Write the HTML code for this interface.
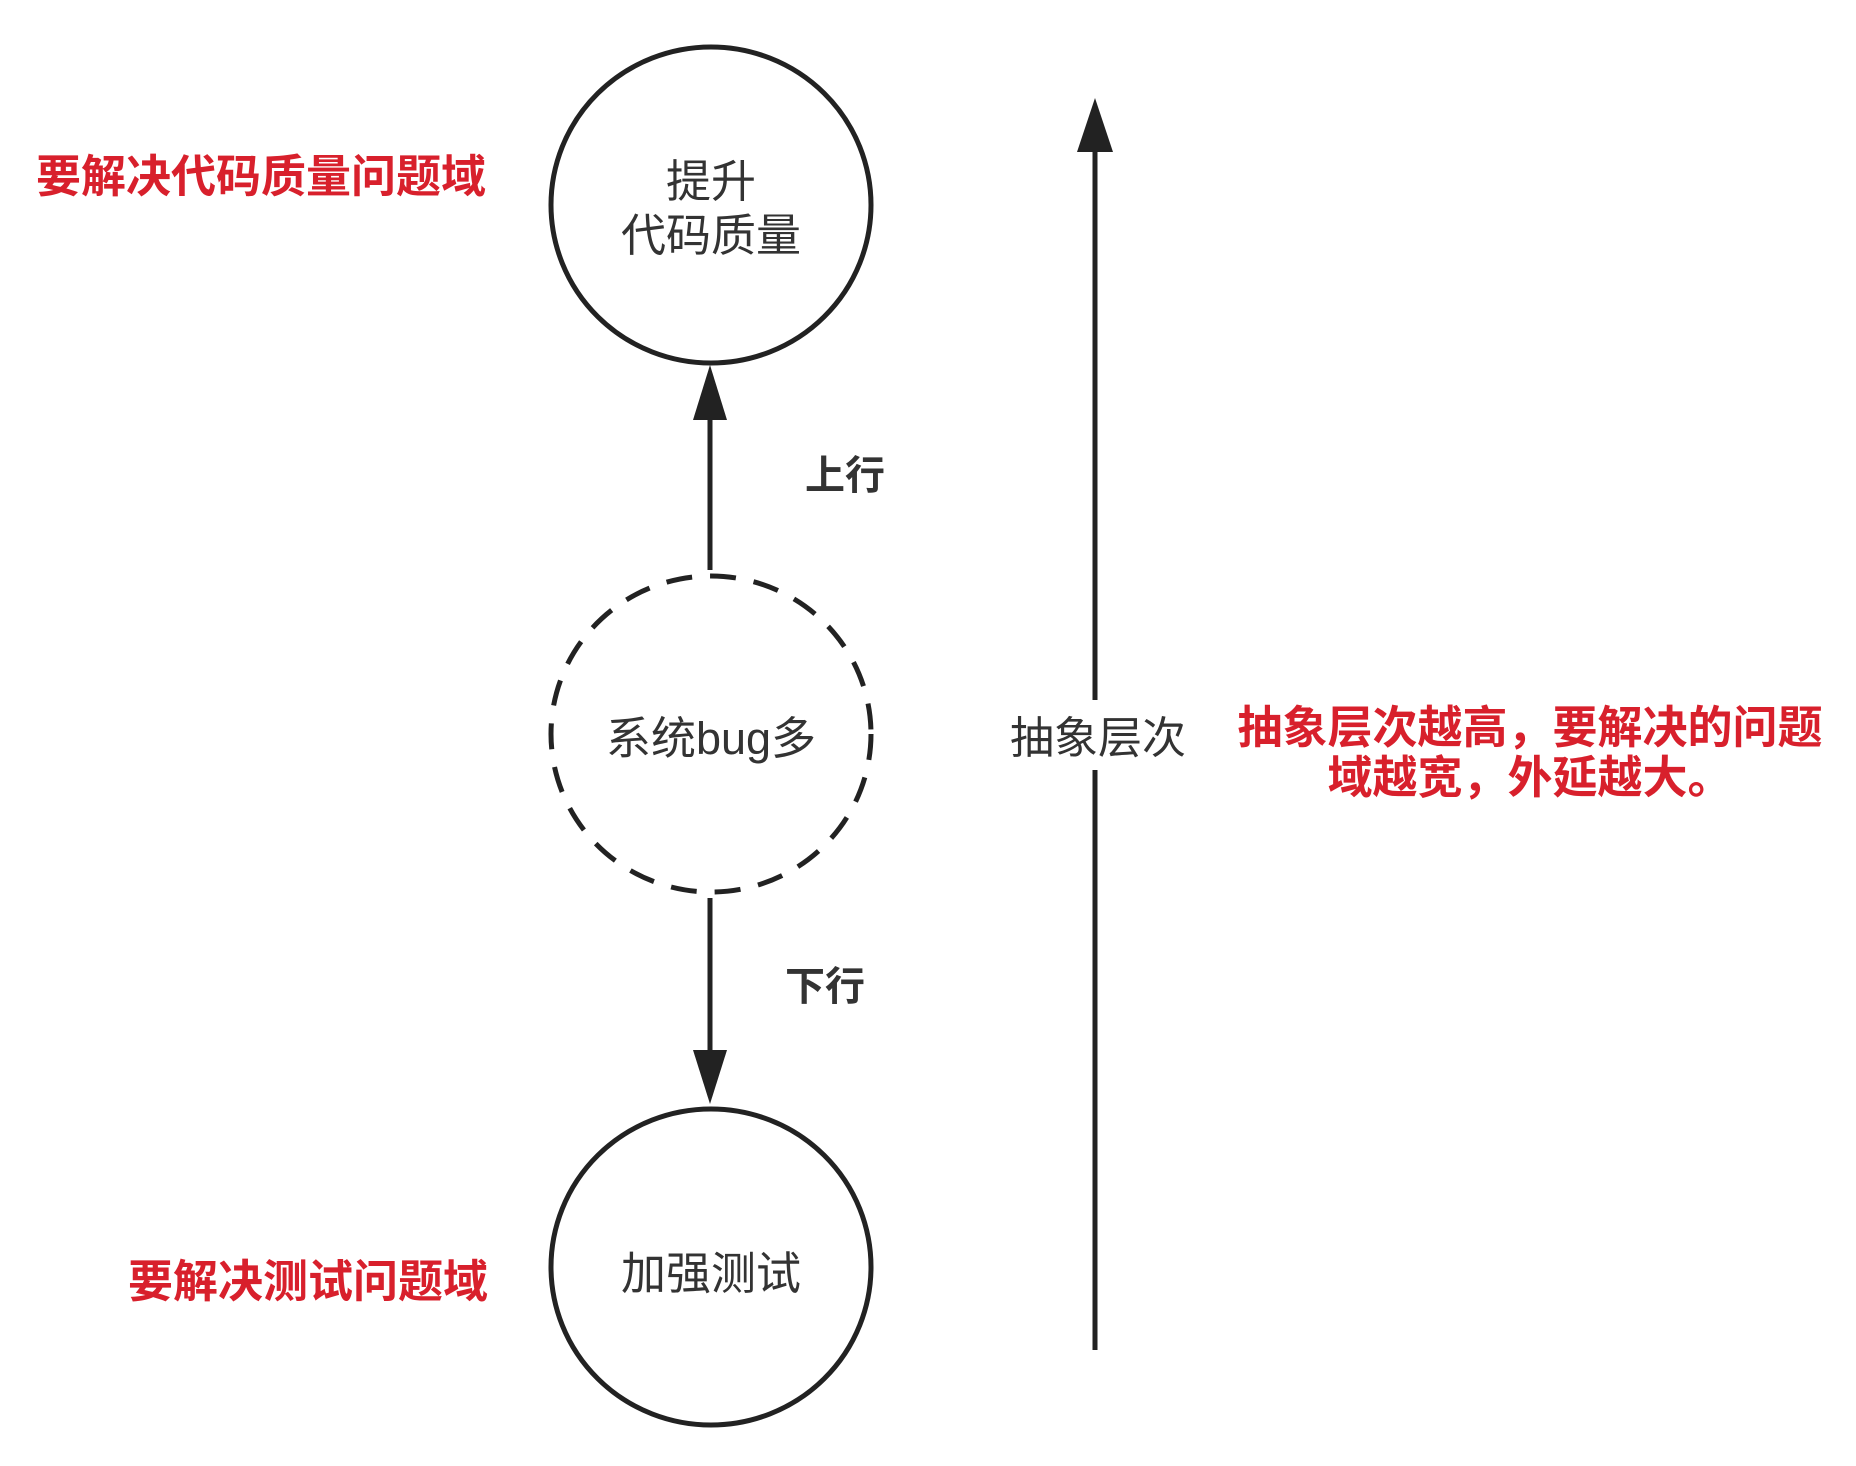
<!DOCTYPE html>
<html><head><meta charset="utf-8"><style>
html,body{margin:0;padding:0;background:#fff;}
svg{display:block;}
text{font-family:"Liberation Sans","Noto Sans CJK SC",sans-serif;}
</style></head><body>
<svg width="1856" height="1466" viewBox="0 0 1856 1466" xmlns="http://www.w3.org/2000/svg">
<g fill="none" stroke="#222" stroke-width="5">
<ellipse cx="711" cy="205" rx="160" ry="158"/>
<ellipse cx="711" cy="734" rx="160" ry="158" stroke-dasharray="26,18"/>
<ellipse cx="711" cy="1267" rx="160" ry="158"/>
<line x1="710" y1="570" x2="710" y2="410"/>
<line x1="710" y1="898" x2="710" y2="1060"/>
<line x1="1095" y1="1350" x2="1095" y2="140"/>
</g>
<g fill="#222">
<polygon points="710,365 693,420 727,420"/>
<polygon points="710,1104 693,1050 727,1050"/>
<polygon points="1095,98 1077,152 1113,152"/>
</g>
<rect x="998" y="700" width="196" height="70" fill="#fff"/>
<g fill="#333" font-size="45" text-anchor="middle">
<text x="711" y="197">提升</text>
<text x="711" y="251">代码质量</text>
<text x="711" y="754">系统bug多</text>
<text x="711" y="1289">加强测试</text>
<text x="1098" y="753" font-size="44">抽象层次</text>
<text x="845" y="489" font-size="40" font-weight="bold">上行</text>
<text x="825" y="1000" font-size="40" font-weight="bold">下行</text>
</g>
<g fill="#d8202c" font-size="45" font-weight="bold">
<text x="36" y="192">要解决代码质量问题域</text>
<text x="128" y="1297">要解决测试问题域</text>
<text x="1530" y="743" text-anchor="middle">抽象层次越高，要解决的问题</text>
<text x="1530" y="793" text-anchor="middle">域越宽，外延越大。</text>
</g>
</svg>
</body></html>
